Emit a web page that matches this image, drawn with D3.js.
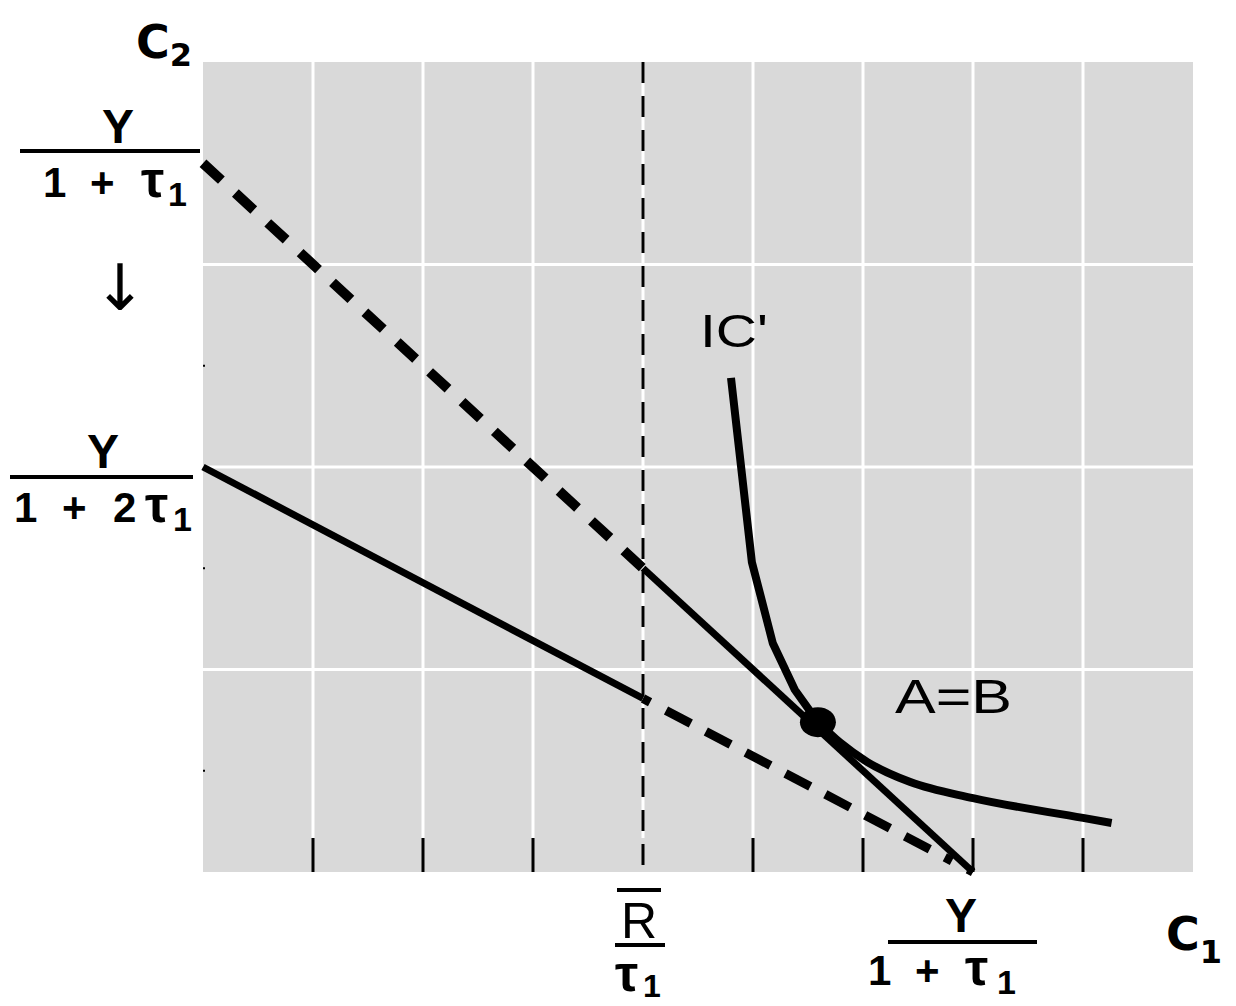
<!DOCTYPE html>
<html>
<head>
<meta charset="utf-8">
<script src="https://cdn.jsdelivr.net/npm/d3@7"></script>
<style>
  body { margin:0; background:#fff; }
  svg { display:block; }
</style>
</head>
<body>
<div id="chart"></div>
<script>
// grid / ticks (in units of C1 and C2)
var gridX = [1, 2, 3, 4, 5, 6, 7, 8];
var gridY = [1, 2, 3];
var bottomTicks = [1, 2, 3, 5, 6, 7, 8];
var leftTicks = [2.5, 1.5, 0.5];
// budget lines: before tax change (Y/(1+t1)) and after (Y/(1+2t1))
var budgetOld = [[0, 3.5], [4, 1.5], [7, 0]];
var budgetNew = [[0, 2], [4, 0.857], [7, 0]];
var rBar = 4;  // R/t1
// indifference curve IC' : kinked upper part, smooth lower part
var icUpper = [[4.8, 2.44], [4.99, 1.53], [5.18, 1.13], [5.38, 0.9], [5.59, 0.74]];
var icLower = [[5.59, 0.74], [5.79, 0.64], [6.04, 0.543], [6.43, 0.444], [7.0, 0.365],
               [8.0, 0.267], [8.26, 0.242]];
var eqPoint = [5.59, 0.74];

var W = 1236, H = 1006;
var svg = d3.select("#chart").append("svg")
    .attr("width", W).attr("height", H)
    .attr("style", "font-family:'Liberation Sans',Arial,sans-serif;");

var x = d3.scaleLinear().domain([0, 9]).range([203, 1193]);
var y = d3.scaleLinear().domain([0, 4]).range([872, 62]);

// background
svg.append("rect")
   .attr("x", x(0)).attr("y", y(4))
   .attr("width", x(9) - x(0)).attr("height", y(0) - y(4))
   .style("fill", "#d9d9d9");

// white grid
svg.append("g").selectAll("line").data(gridX).enter().append("line")
   .attr("x1", function(d){ return x(d); }).attr("x2", function(d){ return x(d); })
   .attr("y1", y(4)).attr("y2", y(0) - 34)
   .style("stroke", "#fff").style("stroke-width", 3);
svg.append("g").selectAll("line").data(gridY).enter().append("line")
   .attr("x1", x(0)).attr("x2", x(9))
   .attr("y1", function(d){ return y(d); }).attr("y2", function(d){ return y(d); })
   .style("stroke", "#fff").style("stroke-width", 3);

// black ticks on C1 axis
svg.append("g").selectAll("line").data(bottomTicks).enter().append("line")
   .attr("x1", function(d){ return x(d); }).attr("x2", function(d){ return x(d); })
   .attr("y1", y(0) - 34).attr("y2", y(0))
   .style("stroke", "#000").style("stroke-width", 3);
// tiny ticks on C2 axis
svg.append("g").selectAll("line").data(leftTicks).enter().append("line")
   .attr("x1", x(0)).attr("x2", x(0) + 2)
   .attr("y1", function(d){ return y(d); }).attr("y2", function(d){ return y(d); })
   .style("stroke", "#000").style("stroke-width", 2);

// vertical dashed line at R/t1
svg.append("line")
   .attr("x1", x(rBar)).attr("x2", x(rBar))
   .attr("y1", y(4)).attr("y2", y(0))
   .style("stroke", "#000").style("stroke-width", 3)
   .style("stroke-dasharray", "21,13");

var line = d3.line().x(function(d){ return x(d[0]); }).y(function(d){ return y(d[1]); });

// old budget line: dashed up to R/t1, solid after
svg.append("path").attr("d", line(budgetOld.slice(0, 2)))
   .style("fill", "none").style("stroke", "#000").style("stroke-width", 10)
   .style("stroke-dasharray", "25,19");
svg.append("path").attr("d", line(budgetOld.slice(1)))
   .style("fill", "none").style("stroke", "#000").style("stroke-width", 7);

// new budget line: solid up to R/t1, dashed after
svg.append("path").attr("d", line(budgetNew.slice(0, 2)))
   .style("fill", "none").style("stroke", "#000").style("stroke-width", 7);
svg.append("path").attr("d", line(budgetNew.slice(1)))
   .style("fill", "none").style("stroke", "#000").style("stroke-width", 9)
   .style("stroke-dasharray", "8,18,28,17,28,17,28,17,28,17,28,17,28,17,28,17");

// IC'
svg.append("path")
   .attr("d", d3.line().x(function(d){ return x(d[0]); }).y(function(d){ return y(d[1]); })
        .curve(d3.curveMonotoneX)(icLower))
   .style("fill", "none").style("stroke", "#000").style("stroke-width", 8);
svg.append("path").attr("d", line(icUpper))
   .style("fill", "none").style("stroke", "#000").style("stroke-width", 8)
   .style("stroke-linejoin", "round");

// equilibrium point
svg.append("ellipse")
   .attr("cx", x(eqPoint[0])).attr("cy", y(eqPoint[1]))
   .attr("rx", 18).attr("ry", 15).style("fill", "#000");

// labels inside plot
svg.append("text").attr("x", 700).attr("y", 347).text("IC'")
   .attr("textLength", 68).attr("lengthAdjust", "spacingAndGlyphs")
   .style("font-size", "47px");
svg.append("text").attr("x", 895).attr("y", 713).text("A=B")
   .attr("textLength", 117).attr("lengthAdjust", "spacingAndGlyphs")
   .style("font-size", "48px");

// axis titles
function axisTitle(xp, yp, main, sub, dy) {
  var t = svg.append("text").attr("x", xp).attr("y", yp)
     .style("font-family", "'DejaVu Sans',sans-serif").style("font-weight", "bold")
     .style("font-size", "46px");
  t.append("tspan").text(main);
  t.append("tspan").text(sub).style("font-size", "32px").attr("dy", dy);
}
axisTitle(136, 58, "C", "2", 8);
axisTitle(1166, 950, "C", "1", 13);

// fraction labels: numerator Y, bar, denominator drawn piece by piece
// part = [x, text, kind]  kind: 0 normal, 1 subscript, 2 greek tau
function fraction(numX, numY, barY, x1, x2, denY, parts) {
  var g = svg.append("g").style("font-weight", "bold");
  g.append("text").attr("x", numX).attr("y", numY).attr("text-anchor", "middle")
   .style("font-size", "48px").text("Y");
  g.append("line").attr("x1", x1).attr("x2", x2).attr("y1", barY).attr("y2", barY)
   .style("stroke", "#000").style("stroke-width", 4);
  g.selectAll("text.part").data(parts).enter().append("text")
   .attr("class", "part")
   .attr("x", function(d){ return d[0]; })
   .attr("y", function(d){ return denY + (d[2] === 1 ? 9 : 0); })
   .style("font-size", function(d){ return d[2] === 1 ? "34px" : d[2] === 2 ? "52px" : "42px"; })
   .text(function(d){ return d[1]; });
  return g;
}
fraction(118, 143, 151, 20, 200, 197,
         [[43, "1", 0], [90, "+", 0], [141, "\u03c4", 2], [168, "1", 1]]);
fraction(103, 468, 477, 10, 193, 522,
         [[14, "1", 0], [62, "+", 0], [113, "2", 0], [145, "\u03c4", 2], [173, "1", 1]]);
fraction(961, 932, 942, 888, 1037, 985,
         [[868, "1", 0], [915, "+", 0], [965, "\u03c4", 2], [997, "1", 1]]);

// R bar over t1
var rg = svg.append("g");
rg.append("line").attr("x1", 617).attr("x2", 661).attr("y1", 890).attr("y2", 890)
  .style("stroke", "#000").style("stroke-width", 4);
rg.append("text").attr("x", 639).attr("y", 938).attr("text-anchor", "middle")
  .style("font-size", "50px").text("R");
rg.append("line").attr("x1", 615).attr("x2", 665).attr("y1", 945).attr("y2", 945)
  .style("stroke", "#000").style("stroke-width", 4);
var rt = rg.append("g").style("font-weight", "bold");
rt.append("text").attr("x", 615).attr("y", 991).style("font-size", "52px").text("\u03c4");
rt.append("text").attr("x", 643).attr("y", 997).style("font-size", "32px").text("1");

// arrow
svg.append("text").attr("x", 120).attr("y", 310).attr("text-anchor", "middle")
   .style("font-family", "'DejaVu Sans',sans-serif")
   .style("font-size", "64px").text("\u2193");
</script>
</body>
</html>
